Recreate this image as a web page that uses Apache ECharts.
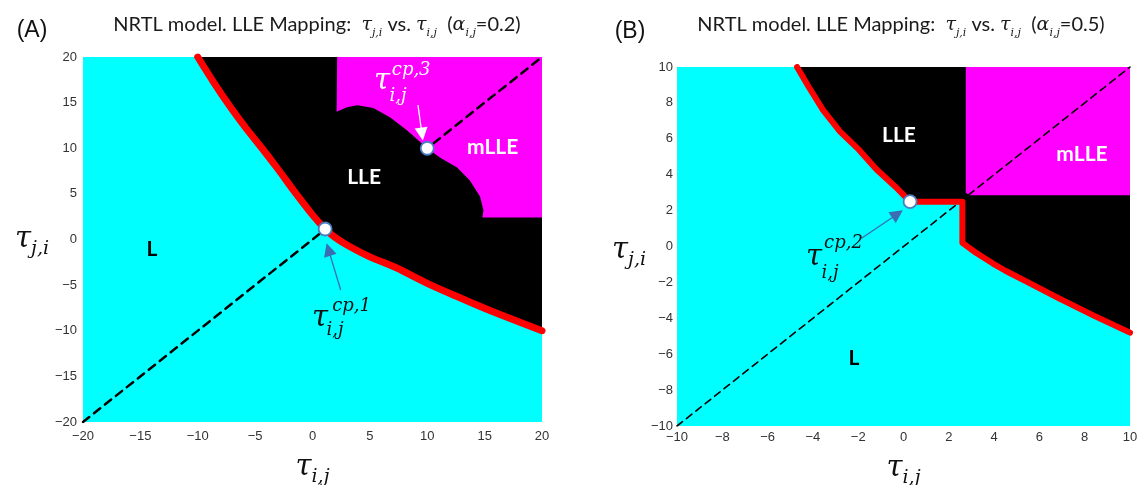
<!DOCTYPE html>
<html><head><meta charset="utf-8">
<script src="https://cdn.jsdelivr.net/npm/echarts@6/dist/echarts.min.js"></script>
<style>html,body{margin:0;padding:0;background:#fff}#c{width:1137px;height:485px}</style>
</head><body><div id="c"></div>
<script>
// ---------- data (tau_ij, tau_ji) ----------
const axisA = [-20, 20, 5];   // min, max, interval
const axisB = [-10, 10, 2];

// Panel A (alpha = 0.2)
const boundaryA = [[-10,20],[-8.6,17.2],[-7.2,14.6],[-5.8,12.2],[-4.4,10.0],[-3,7.7],[-1.6,5.3],[0,2.7],[1.1,1.15],[2,0.2],[3,-0.6],[5,-1.9],[7.3,-3.1],[10,-4.8],[12.5,-6.2],[15.3,-7.7],[20,-10]];
const mlleA = [[2.15,20],[2.1,14.0],[3.0,14.5],[3.9,14.7],[5.3,14.4],[6.75,13.4],[8.2,12.0],[10,10],[11.1,9.0],[12.6,7.9],[13.7,6.5],[14.6,4.7],[14.9,3.2],[14.8,2.4],[20,2.4]];
const diagA = [[-20,-20],[20,20]];
const cpA = [[1.1,1.15],[10,10]];

// Panel B (alpha = 0.5)
const boundaryB = [[-4.7,10],[-4.19,8.9],[-3.55,7.6],[-2.8,6.4],[-1.96,5.38],[-1.2,4.3],[-0.36,3.33],[0.29,2.5],[2.6,2.5],[2.6,0.2],[3.2,-0.35],[3.95,-0.95],[4.5,-1.35],[5.5,-2.0],[6.8,-2.85],[8.4,-3.85],[10,-4.8]];
const mlleB = [[2.75,10],[2.75,3.0],[2.9,2.85],[10,2.85]];
const diagB = [[-10,-10],[10,10]];
const cpB = [[0.29,2.5]];

// Region labels: text, x, y, colour
const regionLabelsA = [['L',-14,-1.1,'#000'],['LLE',4.5,6.85,'#fff'],['mLLE',15.7,10.1,'#fff']];
const regionLabelsB = [['L',-2.19,-6.2,'#000'],['LLE',-0.2,6.21,'#fff'],['mLLE',7.88,5.15,'#fff']];

// Critical-point labels: text, x, y, kind, colour
const cpLabelsA = [['τ',0.65,-8.6,'t','#111'],['cp,1',3.4,-7.29,'s','#111'],['i,j',1.96,-9.92,'s','#111'],
                   ['τ',6.06,17.35,'t','#fff'],['cp,3',8.6,18.58,'s','#fff'],['i,j',7.45,15.73,'s','#fff']];
const cpLabelsB = [['τ',-3.95,-0.62,'t','#111'],['cp,2',-2.65,0.2,'s','#111'],['i,j',-3.24,-1.48,'s','#111']];

// Arrows: from, to, colour
const arrowsA = [[[2.46,-5.53],[1.39,-1.1],'#3b6db3'],[[9.19,14.74],[9.54,11.56],'#ffffff']];
const arrowsB = [[[-1.85,0.46],[-0.265,1.81],'#3b6db3']];

// ---------- chart ----------
const mathFont = 'DejaVu Serif';
const fmt = v => String(v).replace('-', '\u2212');

function titleRich() {
  return {
    n: {fontFamily:'Lato', fontWeight:'normal', fontSize:20, color:'#1a1a1a', lineHeight:28},
    g: {fontFamily:mathFont, fontWeight:'normal', fontStyle:'italic', fontSize:19, color:'#1a1a1a', lineHeight:28},
    s: {fontFamily:mathFont, fontWeight:'normal', fontStyle:'italic', fontSize:11, color:'#1a1a1a', lineHeight:12, padding:[16,0,0,0]}
  };
}
function nameRich(extraTop) {
  return {
    t: {fontFamily:mathFont, fontStyle:'italic', fontSize:29, color:'#111', lineHeight:40, padding:[extraTop,0,0,0]},
    s: {fontFamily:mathFont, fontStyle:'italic', fontSize:19, color:'#111', lineHeight:20, padding:[20+extraTop,0,0,0]}
  };
}
function xAx(gi, ax, gap, margin) {
  return {type:'value', gridIndex:gi, min:ax[0], max:ax[1], interval:ax[2],
    axisLine:{show:false}, axisTick:{show:false}, splitLine:{show:false},
    axisLabel:{fontFamily:'Liberation Sans', fontSize:13, color:'#333333', margin:margin, formatter:fmt},
    name:'{t|τ}{s|i,j}', nameLocation:'middle', nameGap:gap, nameTextStyle:{rich:nameRich(0)}};
}
function yAx(gi, ax, gap, margin, extraTop) {
  return {type:'value', gridIndex:gi, min:ax[0], max:ax[1], interval:ax[2],
    axisLine:{show:false}, axisTick:{show:false}, splitLine:{show:false},
    axisLabel:{fontFamily:'Liberation Sans', fontSize:13, color:'#333333', margin:margin, formatter:fmt},
    name:'{t|τ}{s|j,i}', nameLocation:'middle', nameRotate:0, nameGap:gap, nameTextStyle:{rich:nameRich(extraTop)}};
}
function areaSeries(gi, data, color, smooth) {
  return {type:'line', xAxisIndex:gi, yAxisIndex:gi, data:data, smooth:smooth, symbol:'none', silent:true,
    lineStyle:{width:0, opacity:0}, areaStyle:{color:color, opacity:1, origin:'end'}, z:2};
}
function lineSeries(gi, data, color, width, type, smooth, z) {
  return {type:'line', xAxisIndex:gi, yAxisIndex:gi, data:data, smooth:smooth, symbol:'none', silent:true,
    lineStyle:{color:color, width:width, type:type, cap:'round', join:'round'}, z:z};
}
function arrowSeries(gi, arrows) {
  return {type:'line', xAxisIndex:gi, yAxisIndex:gi, data:[], symbol:'none', silent:true, z:6,
    markLine:{silent:true, animation:false, symbol:['none','triangle'], symbolSize:13, label:{show:false},
      emphasis:{disabled:true},
      data: arrows.map(a => [
        {coord:a[0], lineStyle:{color:a[2], width:1.3, type:'solid', opacity:1}, itemStyle:{color:a[2], opacity:1}},
        {coord:a[1]}
      ])}};
}
function cpSeries(gi, data) {
  return {type:'scatter', xAxisIndex:gi, yAxisIndex:gi, data:data, symbol:'circle', symbolSize:13, silent:true, z:7,
    itemStyle:{color:'#ffffff', borderColor:'#4a7cc0', borderWidth:1.8, opacity:1}};
}
function textSeries(gi, regions, cps) {
  const items = [];
  regions.forEach(r => items.push({value:[r[1], r[2]], label:{show:true, position:'inside', formatter:r[0],
    fontFamily:'Lato', fontWeight:'bold', fontSize:21, color:r[3], opacity:1}}));
  cps.forEach(c => items.push({value:[c[1], c[2]], label:{show:true, position:'inside', formatter:c[0],
    fontFamily:mathFont, fontStyle:'italic', fontSize: c[3]==='t' ? 29 : 18, color:c[4], opacity:1}}));
  return {type:'scatter', xAxisIndex:gi, yAxisIndex:gi, data:items, symbolSize:1, silent:true, z:8,
    itemStyle:{color:'#000', opacity:0}};
}

const option = {
  animation:false,
  backgroundColor:'#ffffff',
  title:[
    {text:'(A)', left:32, top:31, textAlign:'center', textVerticalAlign:'middle', padding:0,
     textStyle:{fontFamily:'Liberation Sans', fontSize:23, fontWeight:'normal', color:'#111'}},
    {text:'{n|NRTL model. LLE Mapping:  }{g|τ}{s|j,i}{n| vs. }{g|τ}{s|i,j}{n|  (}{g|α}{s|i,j}{n|=0.2)}',
     left:317, top:25, textAlign:'center', textVerticalAlign:'middle', padding:0,
     textStyle:{fontWeight:'normal', rich:titleRich()}},
    {text:'(B)', left:630, top:32, textAlign:'center', textVerticalAlign:'middle', padding:0,
     textStyle:{fontFamily:'Liberation Sans', fontSize:23, fontWeight:'normal', color:'#111'}},
    {text:'{n|NRTL model. LLE Mapping:  }{g|τ}{s|j,i}{n| vs. }{g|τ}{s|i,j}{n|  (}{g|α}{s|i,j}{n|=0.5)}',
     left:901, top:25, textAlign:'center', textVerticalAlign:'middle', padding:0,
     textStyle:{fontWeight:'normal', rich:titleRich()}}
  ],
  grid:[
    {left:83, top:57, width:459, height:365, show:true, backgroundColor:'#00ffff', borderWidth:0, outerBoundsMode:'none'},
    {left:677, top:67, width:453, height:359, show:true, backgroundColor:'#00ffff', borderWidth:0, outerBoundsMode:'none'}
  ],
  xAxis:[xAx(0, axisA, 23, 8), xAx(1, axisB, 22, 5)],
  yAxis:[yAx(0, axisA, 34, 6, 0), yAx(1, axisB, 24, 4, 8)],
  series:[
    areaSeries(0, boundaryA, '#000000', 0.3),
    areaSeries(0, mlleA, '#ff00ff', false),
    lineSeries(0, diagA, '#000000', 2.5, [8,6], false, 3),
    lineSeries(0, boundaryA, '#ff0000', 7, 'solid', 0.3, 4),
    arrowSeries(0, arrowsA),
    cpSeries(0, cpA),
    textSeries(0, regionLabelsA, cpLabelsA),

    areaSeries(1, boundaryB, '#000000', false),
    areaSeries(1, mlleB, '#ff00ff', false),
    lineSeries(1, diagB, '#000000', 1.6, [7,5], false, 3),
    lineSeries(1, boundaryB, '#ff0000', 6, 'solid', false, 4),
    arrowSeries(1, arrowsB),
    cpSeries(1, cpB),
    textSeries(1, regionLabelsB, cpLabelsB)
  ]
};
const chart = echarts.init(document.getElementById('c'));
chart.setOption(option);
</script>
</body></html>
